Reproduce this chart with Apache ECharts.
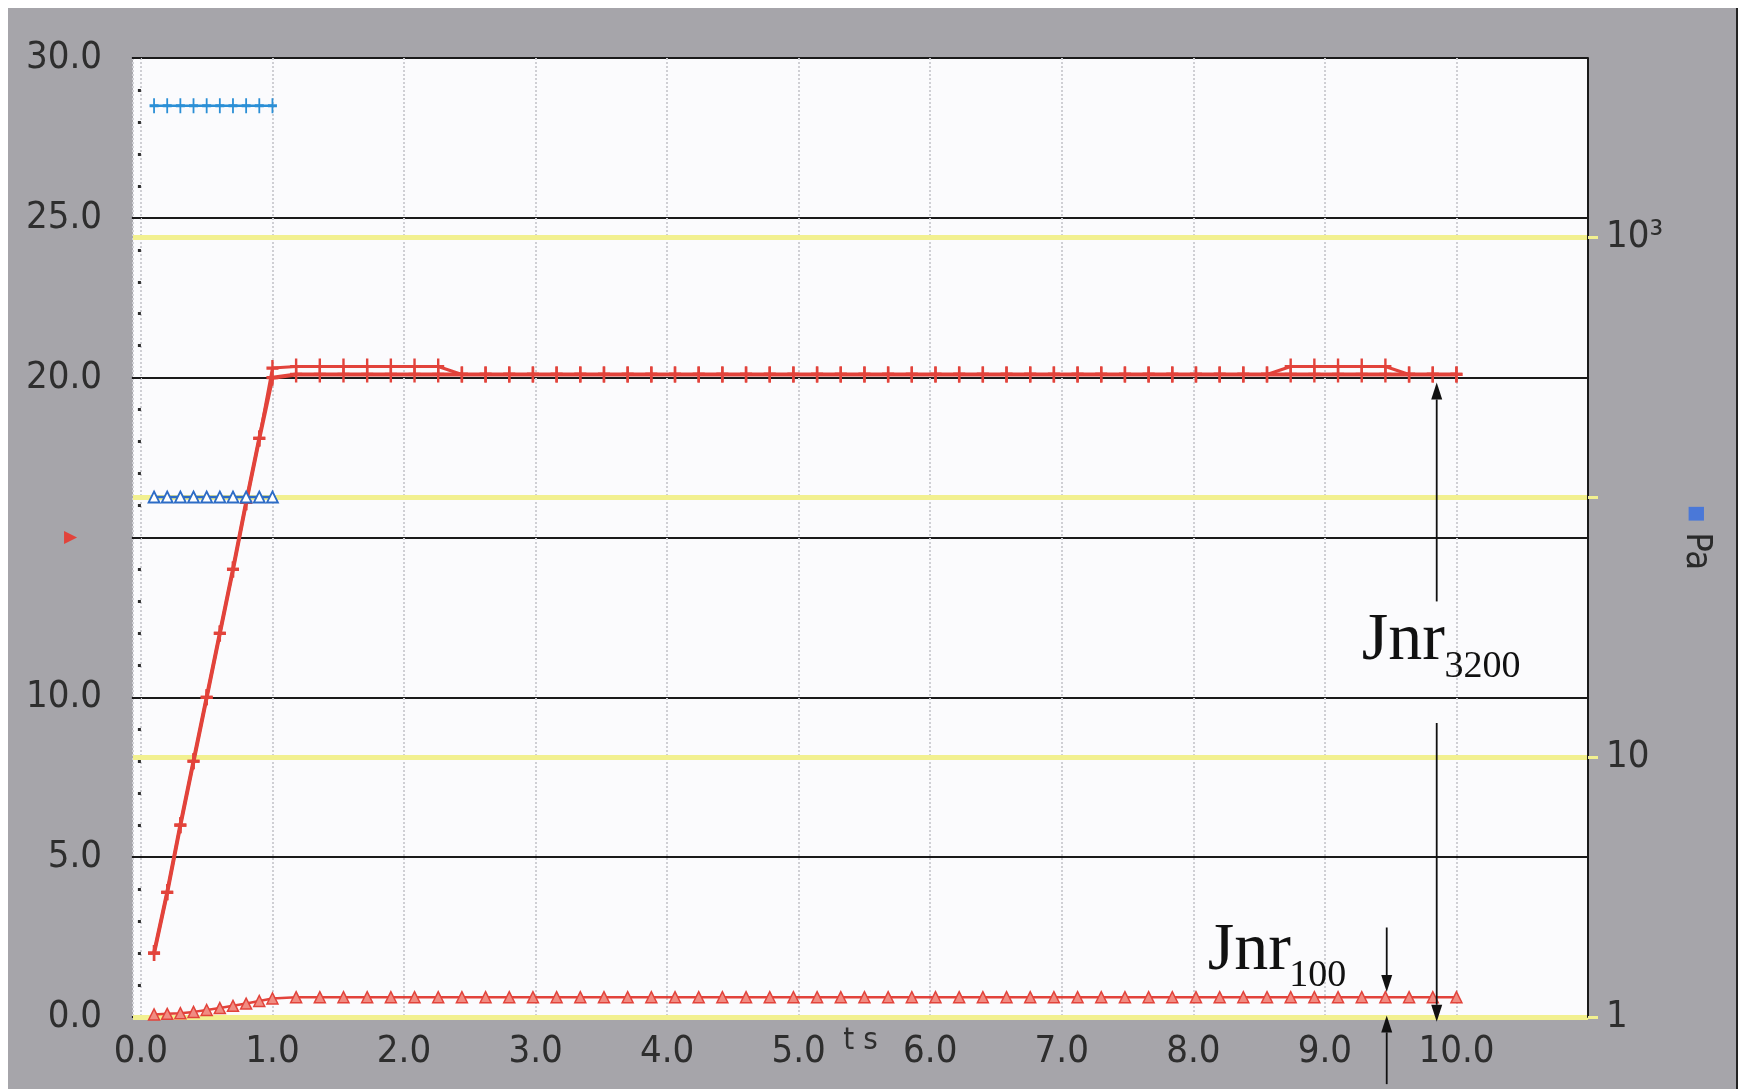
<!DOCTYPE html>
<html>
<head>
<meta charset="utf-8">
<script src="https://cdn.jsdelivr.net/npm/echarts@6/dist/echarts.min.js"></script>
<style>
html,body{margin:0;padding:0;background:#ffffff;}
#c{width:1743px;height:1089px;}
</style>
</head>
<body>
<div id="c"></div>
<script>
// ---------------- DATA ----------------
const creepTimes = [0.1, 0.2, 0.3, 0.4, 0.5, 0.6, 0.7, 0.8, 0.9, 1.0];
const recoveryTimes = [
  1.18, 1.36, 1.54, 1.72, 1.90, 2.08, 2.26, 2.44, 2.62, 2.80,
  2.98, 3.16, 3.34, 3.52, 3.70, 3.88, 4.06, 4.24, 4.42, 4.60,
  4.78, 4.96, 5.14, 5.32, 5.50, 5.68, 5.86, 6.04, 6.22, 6.40,
  6.58, 6.76, 6.94, 7.12, 7.30, 7.48, 7.66, 7.84, 8.02, 8.20,
  8.38, 8.56, 8.74, 8.92, 9.10, 9.28, 9.46, 9.64, 9.82, 10.00
];
// strain at 3200 Pa (left axis), two overlapping cycles
const strain3200CreepA = [2.0, 3.9, 6.0, 8.0, 10.0, 12.0, 14.0, 16.1, 18.1, 20.0];
const strain3200RecoveryA = [
  20.1, 20.1, 20.1, 20.1, 20.1, 20.1, 20.1, 20.1, 20.1, 20.1,
  20.1, 20.1, 20.1, 20.1, 20.1, 20.1, 20.1, 20.1, 20.1, 20.1,
  20.1, 20.1, 20.1, 20.1, 20.1, 20.1, 20.1, 20.1, 20.1, 20.1,
  20.1, 20.1, 20.1, 20.1, 20.1, 20.1, 20.1, 20.1, 20.1, 20.1,
  20.1, 20.1, 20.1, 20.1, 20.1, 20.1, 20.1, 20.1, 20.1, 20.1
];
const strain3200CreepB = [2.0, 3.9, 6.0, 8.0, 10.0, 12.0, 14.0, 16.1, 18.1, 20.3];
const strain3200RecoveryB = [
  20.35, 20.35, 20.35, 20.35, 20.35, 20.35, 20.35, 20.1, 20.1, 20.1,
  20.1, 20.1, 20.1, 20.1, 20.1, 20.1, 20.1, 20.1, 20.1, 20.1,
  20.1, 20.1, 20.1, 20.1, 20.1, 20.1, 20.1, 20.1, 20.1, 20.1,
  20.1, 20.1, 20.1, 20.1, 20.1, 20.1, 20.1, 20.1, 20.1, 20.1,
  20.1, 20.1, 20.35, 20.35, 20.35, 20.35, 20.35, 20.1, 20.1, 20.1
];
// strain at 100 Pa (left axis)
const strain100Creep = [0.08, 0.10, 0.12, 0.16, 0.22, 0.28, 0.35, 0.42, 0.50, 0.58];
const strain100Recovery = [
  0.62, 0.62, 0.62, 0.62, 0.62, 0.62, 0.62, 0.62, 0.62, 0.62,
  0.62, 0.62, 0.62, 0.62, 0.62, 0.62, 0.62, 0.62, 0.62, 0.62,
  0.62, 0.62, 0.62, 0.62, 0.62, 0.62, 0.62, 0.62, 0.62, 0.62,
  0.62, 0.62, 0.62, 0.62, 0.62, 0.62, 0.62, 0.62, 0.62, 0.62,
  0.62, 0.62, 0.62, 0.62, 0.62, 0.62, 0.62, 0.62, 0.62, 0.62
];
// applied stress, Pa (right log axis)
const stress3200 = [3200, 3200, 3200, 3200, 3200, 3200, 3200, 3200, 3200, 3200];
const stress100 = [100, 100, 100, 100, 100, 100, 100, 100, 100, 100];

// tick labels
const xTickValues = [0, 1, 2, 3, 4, 5, 6, 7, 8, 9, 10];
const xTickLabels = ['0.0', '1.0', '2.0', '3.0', '4.0', '5.0', '6.0', '7.0', '8.0', '9.0', '10.0'];
const leftTickValues = [0, 5, 10, 15, 20, 25, 30];
const leftTickLabels = ['0.0', '5.0', '10.0', '', '20.0', '25.0', '30.0'];
const rightTickValues = [1, 10, 100, 1000];
const rightTickLabels = ['1', '10', '', '10\u00b3'];

// annotations (data coordinates on left axis)
const annJnr3200 = { t: 9.85, upTail: 13.0, upTip: 19.85, downTail: 9.2, downTip: -0.15 };
const annJnr100 = { t: 9.47, downTail: 2.8, downTip: 0.78, upTail: -2.1, upTip: 0.05 };
const textJnr3200 = { main: [9.28, 11.76], sub: [9.91, 10.95], subText: '3200' };
const textJnr100 = { main: [8.11, 2.06], sub: [8.73, 1.28], subText: '100' };

// ---------------- STYLE ----------------
const RED = '#e2433b';
const RED_LIGHT = '#f08c82';
const BLUE = '#2b8fd6';
const BLUE_TRI = '#2d6cc6';
const YELLOW = '#f2f090';
const GRAY_BG = '#a6a5aa';
const LABEL_FONT = '"Liberation Sans Narrow", "DejaVu Sans Condensed", "Liberation Sans", sans-serif';
const PLUS = 'path://M4,0 H6 V4 H10 V6 H6 V10 H4 V6 H0 V4 H4 Z';

function zip(ts, vs) { return ts.map((t, i) => [t, vs[i]]); }
function lookup(vals, labels, v) {
  for (let i = 0; i < vals.length; i++) {
    if (Math.abs(vals[i] - v) < 1e-6 * Math.max(1, Math.abs(vals[i]))) return labels[i];
  }
  return '';
}

const chart = echarts.init(document.getElementById('c'), null, { renderer: 'canvas' });

const option = {
  animation: false,
  backgroundColor: 'transparent',
  graphic: [
    { type: 'rect', z: -100, silent: true, shape: { x: 8, y: 8, width: 1729, height: 1090 }, style: { fill: GRAY_BG } },
    { type: 'line', z: -99, silent: true, shape: { x1: 1737, y1: 8, x2: 1737, y2: 1089 }, style: { stroke: '#222', lineWidth: 2 } }
  ],
  grid: {
    left: 133, right: 155, top: 58, bottom: 72,
    outerBoundsMode: 'none', containLabel: false,
    show: true, backgroundColor: '#fbfbfd', borderWidth: 0
  },
  xAxis: {
    type: 'value', min: -0.06, max: 11, minInterval: 1, maxInterval: 1,
    axisLine: { show: false, onZero: false },
    axisTick: { show: false },
    splitLine: { show: true, lineStyle: { color: '#cfcfd4', type: 'dotted', width: 2 } },
    axisLabel: {
      margin: 16, fontSize: 38, color: '#2e2e2e', fontFamily: LABEL_FONT,
      showMinLabel: true, showMaxLabel: true,
      formatter: v => lookup(xTickValues, xTickLabels, v)
    },
    name: 't s', nameLocation: 'middle', nameGap: 8, nameMoveOverlap: false,
    nameTextStyle: { fontSize: 31, color: '#2e2e2e', fontFamily: LABEL_FONT, verticalAlign: 'top' }
  },
  yAxis: [
    {
      type: 'value', min: 0, max: 30, interval: 5, position: 'left',
      axisLine: { show: false },
      axisTick: { show: true, length: 9, lineStyle: { color: '#1a1a1a', width: 2 } },
      minorTick: { show: true, splitNumber: 5, length: 3, lineStyle: { color: '#2a2a2a', width: 3 } },
      splitLine: { show: true, lineStyle: { color: '#1a1a1a', width: 2 } },
      axisLabel: {
        margin: 31, fontSize: 38, color: '#2e2e2e', fontFamily: LABEL_FONT,
        formatter: v => lookup(leftTickValues, leftTickLabels, v)
      },
      name: '\u25b6', nameLocation: 'middle', nameRotate: 0, nameGap: 56, nameMoveOverlap: false,
      nameTextStyle: { color: RED, fontSize: 17, padding: [16, 0, 0, 0] }
    },
    {
      type: 'log', logBase: 10, min: 1, max: 4880, position: 'right', z: 1,
      axisLine: { show: true, lineStyle: { color: '#1a1a1a', width: 2 } },
      axisTick: { show: true, length: 10, lineStyle: { color: YELLOW, width: 3 } },
      splitLine: { show: true, showMaxLine: false, lineStyle: { color: YELLOW, width: 5 } },
      axisLabel: {
        margin: 18, fontSize: 38, color: '#2e2e2e', fontFamily: LABEL_FONT,
        showMaxLabel: false,
        formatter: v => lookup(rightTickValues, rightTickLabels, v)
      },
      name: '{m|\u25a0} Pa', nameLocation: 'middle', nameRotate: -90, nameGap: 90, nameMoveOverlap: false,
      nameTextStyle: { fontSize: 36, color: '#2a2a2a', fontFamily: LABEL_FONT, rich: { m: { color: '#4a78d8', fontSize: 20 } } }
    }
  ],
  series: [
    {
      name: 'strain 3200 Pa cycle B', type: 'line', yAxisIndex: 0, showAllSymbol: true,
      data: zip(creepTimes.concat(recoveryTimes), strain3200CreepB.concat(strain3200RecoveryB)),
      lineStyle: { color: RED, width: 3 },
      symbol: PLUS, symbolSize: [12, 16], itemStyle: { color: RED }, z: 3
    },
    {
      name: 'strain 3200 Pa cycle A', type: 'line', yAxisIndex: 0, showAllSymbol: true,
      data: zip(creepTimes.concat(recoveryTimes), strain3200CreepA.concat(strain3200RecoveryA)),
      lineStyle: { color: RED, width: 4 },
      symbol: PLUS, symbolSize: [12, 16], itemStyle: { color: RED }, z: 4
    },
    {
      name: 'strain 100 Pa', type: 'line', yAxisIndex: 0, showAllSymbol: true,
      data: zip(creepTimes.concat(recoveryTimes), strain100Creep.concat(strain100Recovery)),
      lineStyle: { color: RED, width: 2.5 },
      symbol: 'triangle', symbolSize: 11, itemStyle: { color: RED_LIGHT, borderColor: RED, borderWidth: 1.5 }, z: 4
    },
    {
      name: 'stress 3200 Pa', type: 'line', yAxisIndex: 1, showAllSymbol: true,
      data: zip(creepTimes, stress3200),
      lineStyle: { color: BLUE, width: 2.5 },
      symbol: PLUS, symbolSize: [9, 15], itemStyle: { color: BLUE }, z: 4
    },
    {
      name: 'stress 100 Pa', type: 'line', yAxisIndex: 1, showAllSymbol: true,
      data: zip(creepTimes, stress100),
      lineStyle: { color: BLUE_TRI, width: 2.5 },
      symbol: 'triangle', symbolSize: 11, itemStyle: { color: '#ffffff', borderColor: BLUE_TRI, borderWidth: 1.8 }, z: 4
    }
  ]
};

chart.setOption(option);

// ---------------- ANNOTATIONS (positioned through the axis scales) ----------------
function px(t, v) { return chart.convertToPixel({ seriesIndex: 1 }, [t, v]); }
function arrow(t, tailV, tipV) {
  const a = px(t, tailV), b = px(t, tipV);
  const dir = b[1] < a[1] ? -1 : 1;
  const headLen = 17, halfW = 5.5;
  const baseY = b[1] - dir * headLen;
  return [
    { type: 'line', z: 20, silent: true, shape: { x1: a[0], y1: a[1], x2: b[0], y2: baseY }, style: { stroke: '#111', lineWidth: 1.8 } },
    { type: 'polygon', z: 20, silent: true, shape: { points: [[b[0], b[1]], [b[0] - halfW, baseY], [b[0] + halfW, baseY]] }, style: { fill: '#111' } }
  ];
}
function label(pos, text, size) {
  const p = px(pos[0], pos[1]);
  return {
    type: 'text', z: 20, silent: true, x: p[0], y: p[1],
    style: {
      text: text, fill: '#111', font: size + 'px "Liberation Serif", "DejaVu Serif", serif',
      align: 'left', verticalAlign: 'middle', textAlign: 'left', textVerticalAlign: 'middle'
    }
  };
}
const ann = []
  .concat(arrow(annJnr3200.t, annJnr3200.upTail, annJnr3200.upTip))
  .concat(arrow(annJnr3200.t, annJnr3200.downTail, annJnr3200.downTip))
  .concat(arrow(annJnr100.t, annJnr100.downTail, annJnr100.downTip))
  .concat(arrow(annJnr100.t, annJnr100.upTail, annJnr100.upTip))
  .concat([
    label(textJnr3200.main, 'Jnr', 68),
    label(textJnr3200.sub, textJnr3200.subText, 38),
    label(textJnr100.main, 'Jnr', 68),
    label(textJnr100.sub, textJnr100.subText, 38)
  ]);

chart.setOption({ graphic: option.graphic.concat(ann) });
</script>
</body>
</html>
